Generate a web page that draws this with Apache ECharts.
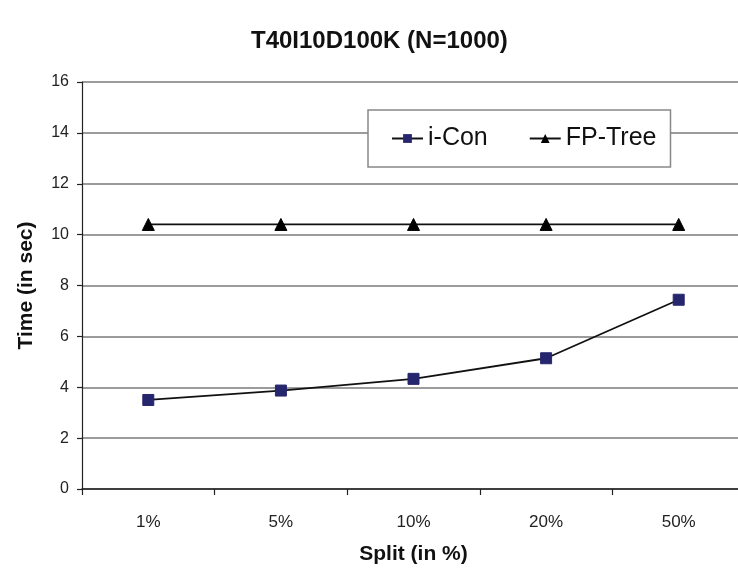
<!DOCTYPE html>
<html>
<head>
<meta charset="utf-8">
<script src="https://cdn.jsdelivr.net/npm/echarts@6/dist/echarts.min.js"></script>
<style>
  html, body { margin: 0; padding: 0; background: #fff; }
  #chart { width: 738px; height: 571px; }
</style>
</head>
<body>
<div id="chart"></div>
<script>
// Split percentages on the x axis
const splits = ['1%', '5%', '10%', '20%', '50%'];
// Running time in seconds for each method
const iConTimes = [3.5, 3.87, 4.33, 5.14, 7.44];
const fpTreeTimes = [10.4, 10.4, 10.4, 10.4, 10.4];
// Value axis range
const yMin = 0, yMax = 16, yStep = 2;

const font = '"Liberation Sans", Arial, sans-serif';
const chart = echarts.init(document.getElementById('chart'));

chart.setOption({
  animation: false,
  backgroundColor: '#ffffff',
  title: {
    text: 'T40I10D100K (N=1000)',
    left: 246,
    top: 24,
    textStyle: { fontFamily: font, fontSize: 24, fontWeight: 'bold', color: '#111' }
  },
  legend: {
    left: 368,
    top: 110,
    padding: [16, 14, 16, 23],
    itemGap: 41,
    itemWidth: 31,
    itemHeight: 11,
    backgroundColor: '#ffffff',
    borderColor: '#888',
    borderWidth: 1.5,
    textStyle: { fontFamily: font, fontSize: 25, color: '#111' },
    data: ['i-Con', 'FP-Tree']
  },
  grid: { left: 82, top: 82, right: -7, bottom: 82, containLabel: false, outerBoundsMode: 'none' },
  xAxis: {
    type: 'category',
    data: splits,
    boundaryGap: true,
    name: 'Split (in %)',
    nameLocation: 'middle',
    nameGap: 55,
    nameTextStyle: { fontFamily: font, fontSize: 21, fontWeight: 'bold', color: '#111' },
    axisLine: { lineStyle: { color: '#222', width: 1.5 } },
    axisTick: { show: true, alignWithLabel: false, length: 6, lineStyle: { color: '#222', width: 1.2 } },
    axisLabel: { fontFamily: font, fontSize: 17, color: '#222', margin: 25 },
    splitLine: { show: false }
  },
  yAxis: {
    type: 'value',
    min: yMin,
    max: yMax,
    interval: yStep,
    name: 'Time (in sec)',
    nameLocation: 'middle',
    nameGap: 45,
    nameRotate: 90,
    nameTextStyle: { fontFamily: font, fontSize: 21, fontWeight: 'bold', color: '#111' },
    axisLine: { show: true, lineStyle: { color: '#222', width: 1.2 } },
    axisTick: { show: true, length: 5, lineStyle: { color: '#222', width: 1.2 } },
    axisLabel: { fontFamily: font, fontSize: 16, color: '#222', margin: 13 },
    splitLine: { show: true, lineStyle: { color: '#7a7a7a', width: 1.6 } }
  },
  series: [
    {
      name: 'i-Con',
      type: 'line',
      data: iConTimes,
      symbol: 'rect',
      symbolSize: 11,
      itemStyle: { color: '#26266e', borderColor: '#26266e' },
      lineStyle: { color: '#111', width: 1.8 },
      z: 3
    },
    {
      name: 'FP-Tree',
      type: 'line',
      data: fpTreeTimes,
      symbol: 'triangle',
      symbolSize: 12,
      itemStyle: { color: '#000', borderColor: '#000' },
      lineStyle: { color: '#111', width: 1.8 },
      z: 3
    }
  ]
});
</script>
</body>
</html>
